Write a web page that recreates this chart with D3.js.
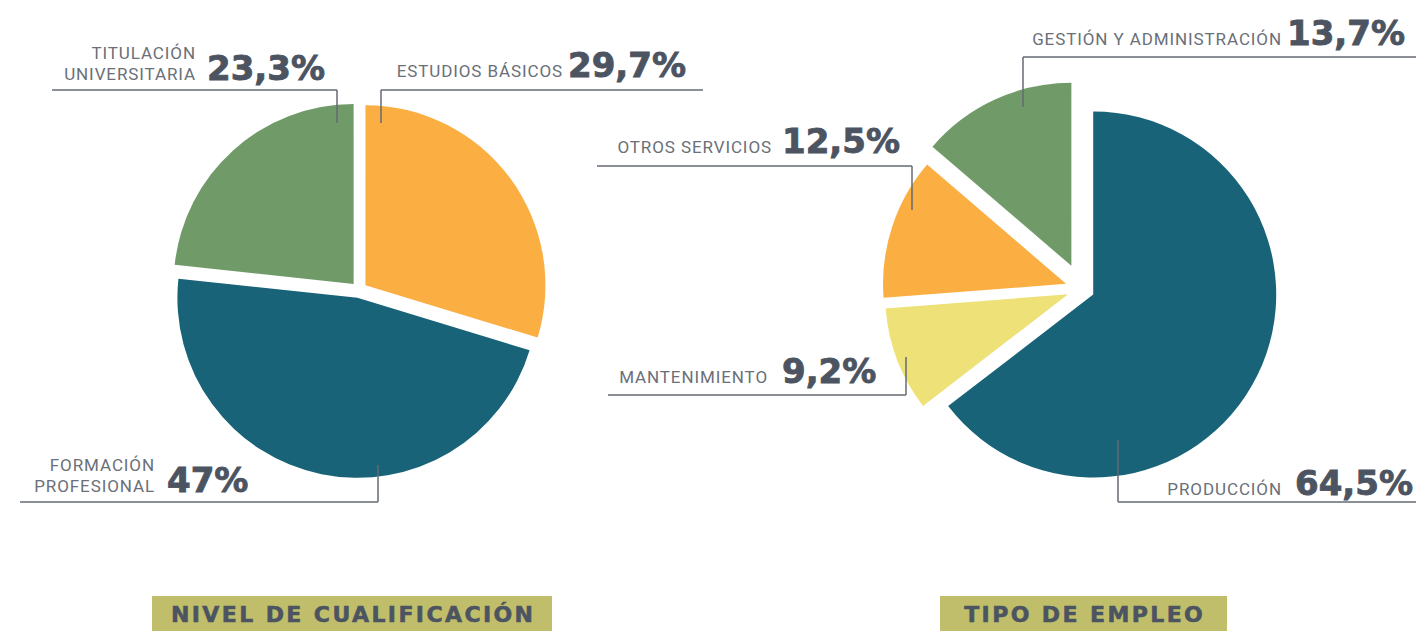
<!DOCTYPE html>
<html>
<head>
<meta charset="utf-8">
<script src="https://cdn.jsdelivr.net/npm/d3@7"></script>
<style>
  html, body { margin: 0; padding: 0; background: #ffffff; }
  svg { display: block; }
</style>
</head>
<body>
<svg id="chart" width="1416" height="631"></svg>
<script>
// ---------- DATA ----------
const nivelCategories = ["ESTUDIOS BÁSICOS", "FORMACIÓN PROFESIONAL", "TITULACIÓN UNIVERSITARIA"];
const nivelValues = [29.7, 47, 23.3];
const nivelLabels = ["29,7%", "47%", "23,3%"];
const nivelTitle = "NIVEL DE CUALIFICACIÓN";

const empleoCategories = ["PRODUCCIÓN", "MANTENIMIENTO", "OTROS SERVICIOS", "GESTIÓN Y ADMINISTRACIÓN"];
const empleoValues = [64.5, 9.2, 12.5, 13.7];
const empleoLabels = ["64,5%", "9,2%", "12,5%", "13,7%"];
const empleoTitle = "TIPO DE EMPLEO";

// ---------- STYLE / LAYOUT ----------
const nivelColors = ["#fbae42", "#186377", "#709b69"];
const empleoColors = ["#186377", "#ede178", "#fbae42", "#709b69"];
const textDark = "#4c5461";
const textGray = "#6a6f78";
const lineColor = "#656a73";
const boxColor = "#c1be6b";

const charts = [
  {
    cats: nivelCategories, vals: nivelValues, labs: nivelLabels, colors: nivelColors, title: nivelTitle,
    cx: 359, cy: 290, r: 180, explode: [8, 8, 8],
    box: { x: 152, w: 400 },
    ann: [
      { numX: 568, base: 77, smallEnd: 563, wrap: false, ly: 90, lx1: 381, lx2: 703, tx: 381, ty: 123 },
      { numX: 167, base: 492, smallEnd: 155, wrap: true, ly: 502, lx1: 20, lx2: 378, tx: 378, ty: 465 },
      { numX: 207, base: 80, smallEnd: 196, wrap: true, ly: 90, lx1: 52, lx2: 337, tx: 337, ty: 123 }
    ]
  },
  {
    cats: empleoCategories, vals: empleoValues, labs: empleoLabels, colors: empleoColors, title: empleoTitle,
    cx: 1082, cy: 289, r: 183, explode: [12.5, 14.9, 16.8, 25.5],
    box: { x: 940, w: 287 },
    ann: [
      { numX: 1295, base: 495, smallEnd: 1282, wrap: false, ly: 502, lx1: 1118, lx2: 1420, tx: 1118, ty: 440 },
      { numX: 782, base: 383, smallEnd: 768, wrap: false, ly: 395, lx1: 608, lx2: 906, tx: 906, ty: 357 },
      { numX: 782, base: 153, smallEnd: 772, wrap: false, ly: 166, lx1: 597, lx2: 912, tx: 912, ty: 210 },
      { numX: 1287, base: 45, smallEnd: 1282, wrap: false, ly: 57, lx1: 1023, lx2: 1420, tx: 1023, ty: 107 }
    ]
  }
];

const svg = d3.select("#chart");
const pie = d3.pie().sort(null).value(d => d).startAngle(0).endAngle(2 * Math.PI);

charts.forEach(ch => {
  const arc = d3.arc().innerRadius(0).outerRadius(ch.r);
  const arcs = pie(ch.vals);
  const g = svg.append("g").attr("transform", `translate(${ch.cx},${ch.cy})`);

  g.selectAll("path")
    .data(arcs)
    .join("path")
    .attr("d", arc)
    .attr("fill", (d, i) => ch.colors[i])
    .attr("transform", (d, i) => {
      const mid = (d.startAngle + d.endAngle) / 2;
      const off = ch.explode[i];
      return `translate(${Math.sin(mid) * off},${-Math.cos(mid) * off})`;
    });

  // annotations
  const ag = svg.append("g");
  ch.ann.forEach((a, i) => {
    ag.append("line")
      .attr("x1", a.lx1).attr("x2", a.lx2).attr("y1", a.ly).attr("y2", a.ly)
      .attr("stroke", lineColor).attr("stroke-width", 1.5);
    ag.append("line")
      .attr("x1", a.tx).attr("x2", a.tx).attr("y1", a.ly).attr("y2", a.ty)
      .attr("stroke", lineColor).attr("stroke-width", 1.5);

    ag.append("text")
      .attr("x", a.numX).attr("y", a.base)
      .attr("font-family", "'DejaVu Sans', sans-serif")
      .attr("font-weight", "bold")
      .attr("font-size", 34)
      .attr("fill", textDark)
      .attr("stroke", textDark)
      .attr("stroke-width", 0.9)
      .text(ch.labs[i]);

    const lines = a.wrap ? ch.cats[i].split(" ") : [ch.cats[i]];
    const t = ag.append("text")
      .attr("text-anchor", "end")
      .attr("font-family", "Roboto, 'Liberation Sans', sans-serif")
      .attr("font-size", 17)
      .attr("letter-spacing", 0.9)
      .attr("fill", textGray);
    lines.forEach((ln, k) => {
      t.append("tspan")
        .attr("x", a.smallEnd)
        .attr("y", a.base - (lines.length - 1 - k) * 21)
        .text(ln);
    });
  });

  // title box
  svg.append("rect")
    .attr("x", ch.box.x).attr("y", 596)
    .attr("width", ch.box.w).attr("height", 40)
    .attr("fill", boxColor);
  svg.append("text")
    .attr("x", ch.box.x + ch.box.w / 2 + 1.2).attr("y", 622)
    .attr("text-anchor", "middle")
    .attr("font-family", "'DejaVu Sans', sans-serif")
    .attr("font-weight", "bold")
    .attr("font-size", 22)
    .attr("letter-spacing", 2.4)
    .attr("fill", textDark)
    .attr("stroke", textDark)
    .attr("stroke-width", 0.6)
    .text(ch.title);
});
</script>
</body>
</html>
